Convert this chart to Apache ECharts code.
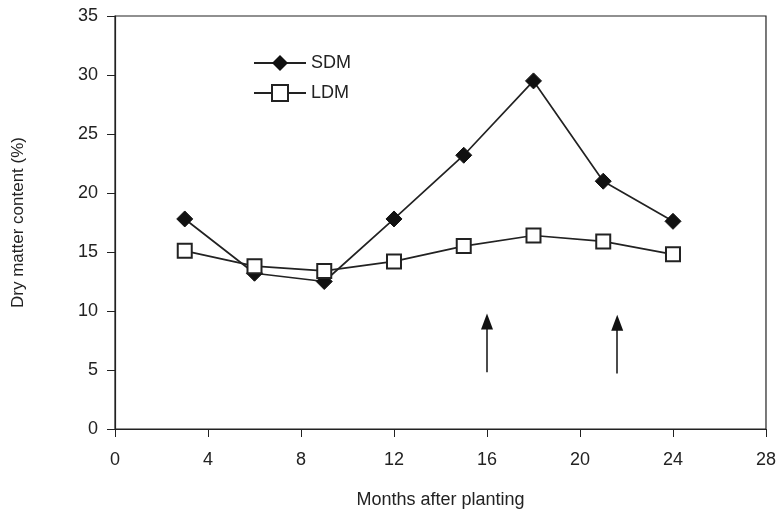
<!DOCTYPE html>
<html><head><meta charset="utf-8">
<script src="https://cdn.jsdelivr.net/npm/echarts@6/dist/echarts.min.js"></script>
<style>html,body{margin:0;padding:0;background:#fff;}#c{width:779px;height:515px;}</style>
</head><body><div id="c"></div>
<script>
const months = [3, 6, 9, 12, 15, 18, 21, 24];
const sdm = [17.8, 13.2, 12.5, 17.8, 23.2, 29.5, 21.0, 17.6];
const ldm = [15.1, 13.8, 13.4, 14.2, 15.5, 16.4, 15.9, 14.8];
const xTicks = [0, 4, 8, 12, 16, 20, 24, 28];
const yTicks = [0, 5, 10, 15, 20, 25, 30, 35];
const arrowX = [16, 21.6];
const arrowFrom = [4.8, 4.7];
const arrowTo = [9.1, 9.0];

const font = '"Liberation Sans", Arial, sans-serif';
const chart = echarts.init(document.getElementById('c'));
chart.setOption({
  animation: false,
  backgroundColor: '#fff',
  textStyle: { fontFamily: font, color: '#222' },
  grid: { left: 115, right: 12, top: 16, bottom: 86, show: true, borderColor: '#222', borderWidth: 1.2, containLabel: false },
  legend: {
    orient: 'vertical', left: 248, top: 49, itemWidth: 52, itemHeight: 20, itemGap: 12,
    textStyle: { fontFamily: font, fontSize: 18, color: '#222', padding: [0,0,0,0] },
    data: ['SDM', 'LDM']
  },
  xAxis: {
    type: 'value', min: xTicks[0], max: xTicks[xTicks.length-1], interval: 4,
    name: 'Months after planting', nameLocation: 'middle', nameGap: 62,
    nameTextStyle: { fontFamily: font, fontSize: 18, color: '#222' },
    axisLine: { lineStyle: { color: '#222', width: 1.2 } },
    axisTick: { show: true, length: 8, inside: false, lineStyle: { color: '#222' } },
    axisLabel: { fontFamily: font, fontSize: 18, color: '#222', margin: 22 },
    splitLine: { show: false }
  },
  yAxis: {
    type: 'value', min: yTicks[0], max: yTicks[yTicks.length-1], interval: 5,
    name: 'Dry matter content (%)', nameLocation: 'middle', nameGap: 88, nameRotate: 90,
    nameTextStyle: { fontFamily: font, fontSize: 17, color: '#222' },
    axisLine: { show: true, lineStyle: { color: '#222', width: 1.2 } },
    axisTick: { show: true, length: 8, inside: false, lineStyle: { color: '#222' } },
    axisLabel: { fontFamily: font, fontSize: 18, color: '#222', margin: 17 },
    splitLine: { show: false }
  },
  series: [
    {
      name: 'SDM', type: 'line', data: months.map((m, i) => [m, sdm[i]]),
      symbol: 'diamond', symbolSize: 16,
      itemStyle: { color: '#111', borderColor: '#111' },
      lineStyle: { color: '#222', width: 1.7 }, z: 3
    },
    {
      name: 'LDM', type: 'line', data: months.map((m, i) => [m, ldm[i]]),
      symbol: 'rect', symbolSize: 14,
      itemStyle: { color: '#fff', borderColor: '#222', borderWidth: 2 },
      lineStyle: { color: '#222', width: 1.7 }, z: 4,
      markLine: {
        silent: true, symbol: ['none', 'triangle'], symbolSize: [12, 16],
        lineStyle: { color: '#111', width: 1.5, type: 'solid' },
        label: { show: false },
        data: arrowX.map((x, i) => [{ coord: [x, arrowFrom[i]] }, { coord: [x, arrowTo[i]] }])
      }
    }
  ]
});
</script></body></html>
